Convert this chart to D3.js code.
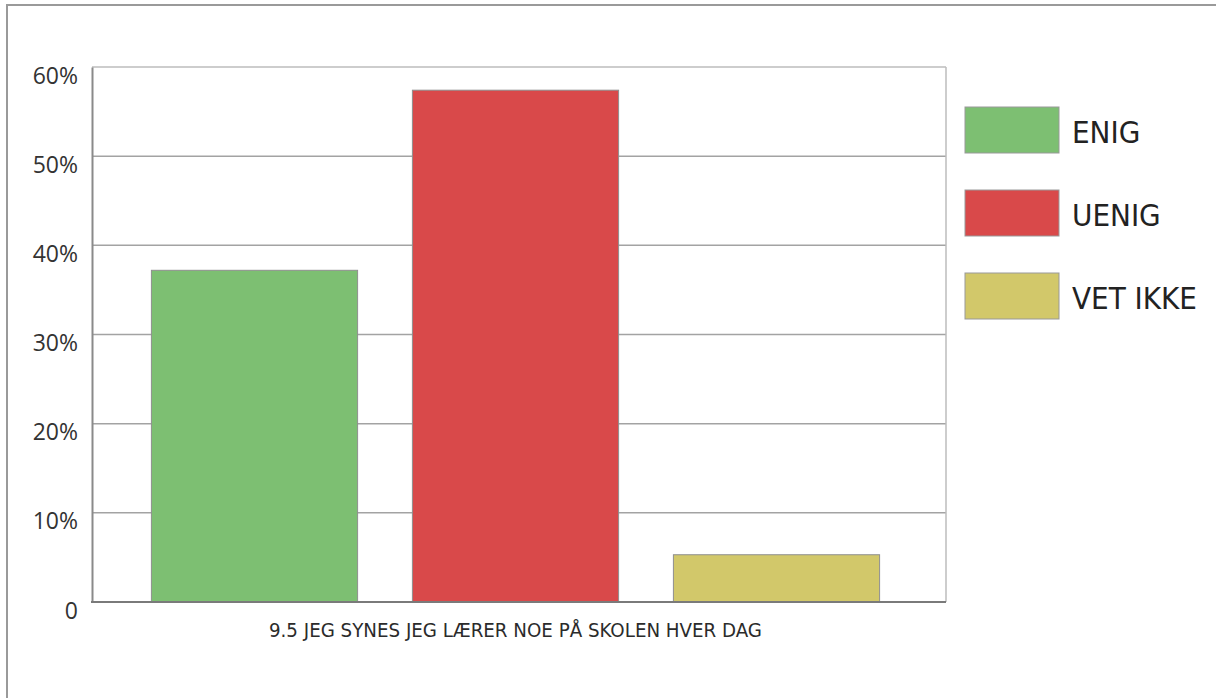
<!DOCTYPE html>
<html>
<head>
<meta charset="utf-8">
<script src="https://cdn.jsdelivr.net/npm/d3@7"></script>
<style>
  html, body { margin: 0; padding: 0; background: #fff; }
  svg { display: block; }
</style>
</head>
<body>
<svg id="chart" width="1216" height="698"></svg>
<script>
// Survey answers to statement 9.5
const categories = ["ENIG", "UENIG", "VET IKKE"];
const values = [37.2, 57.4, 5.3];
const colors = ["#7dbf72", "#d9494a", "#d2c86a"];
const yTicks = [0, 10, 20, 30, 40, 50, 60];
const questionLabel = "9.5 JEG SYNES JEG LÆRER NOE PÅ SKOLEN HVER DAG";

const svg = d3.select("#chart");

const plot = { left: 92, right: 946, top: 67, bottom: 602 };

// outer frame (only top and left edges fall inside the view)
svg.append("rect")
  .attr("x", 7).attr("y", 5)
  .attr("width", 1300).attr("height", 800)
  .attr("fill", "none")
  .attr("stroke", "#9a9a9a")
  .attr("stroke-width", 2);

const y = d3.scaleLinear().domain([0, 60]).range([plot.bottom, plot.top]);
const x = d3.scaleBand()
  .domain(categories)
  .range([124, 907])
  .paddingInner(0.21)
  .paddingOuter(0.105);

// horizontal gridlines
svg.append("g")
  .selectAll("line")
  .data(yTicks.filter(t => t > 0))
  .join("line")
  .attr("x1", plot.left).attr("x2", plot.right)
  .attr("y1", d => y(d)).attr("y2", d => y(d))
  .attr("stroke", d => d === 60 ? "#bdbdbd" : "#a3a3a3")
  .attr("stroke-width", 1.5);

// right border of the plot area
svg.append("line")
  .attr("x1", plot.right).attr("x2", plot.right)
  .attr("y1", plot.top).attr("y2", plot.bottom)
  .attr("stroke", "#bdbdbd").attr("stroke-width", 1.5);

// bars
svg.append("g")
  .selectAll("rect")
  .data(categories.map((c, i) => ({ c, v: values[i], col: colors[i] })))
  .join("rect")
  .attr("x", d => x(d.c))
  .attr("y", d => y(d.v))
  .attr("width", x.bandwidth())
  .attr("height", d => y(0) - y(d.v))
  .attr("fill", d => d.col)
  .attr("stroke", "#8f8f8f")
  .attr("stroke-width", 1);

// y axis
const yAxis = d3.axisLeft(y)
  .tickValues(yTicks)
  .tickSize(0)
  .tickPadding(14)
  .tickFormat(d => d === 0 ? "0" : d + "%");

const gy = svg.append("g")
  .attr("transform", `translate(${plot.left},0)`)
  .call(yAxis);
gy.select(".domain").attr("stroke", "#8a8a8a").attr("stroke-width", 2);
gy.selectAll("text")
  .attr("dy", "16px")
  .attr("fill", "#333")
  .style("font-family", "'Open Sans', 'Noto Sans', sans-serif")
  .style("font-size", "23px");

// x baseline
svg.append("line")
  .attr("x1", plot.left - 1).attr("x2", plot.right)
  .attr("y1", y(0)).attr("y2", y(0))
  .attr("stroke", "#7a7a7a").attr("stroke-width", 2);

// category label
svg.append("text")
  .attr("x", x("UENIG") + x.bandwidth() / 2)
  .attr("y", 637)
  .attr("text-anchor", "middle")
  .attr("fill", "#2b2b2b")
  .style("font-family", "'Liberation Sans Narrow', 'DejaVu Sans Condensed', sans-serif")
  .style("font-size", "20.3px")
  .text(questionLabel);

// legend
const legend = svg.append("g")
  .selectAll("g")
  .data(categories)
  .join("g")
  .attr("transform", (d, i) => `translate(965, ${107 + i * 83})`);

legend.append("rect")
  .attr("width", 94).attr("height", 46)
  .attr("fill", (d, i) => colors[i])
  .attr("stroke", "#999").attr("stroke-width", 1);

legend.append("text")
  .attr("x", 107)
  .attr("y", 36)
  .attr("fill", "#222")
  .style("font-family", "'Liberation Sans Narrow', 'DejaVu Sans Condensed', sans-serif")
  .style("font-size", "31px")
  .text(d => d);
</script>
</body>
</html>
